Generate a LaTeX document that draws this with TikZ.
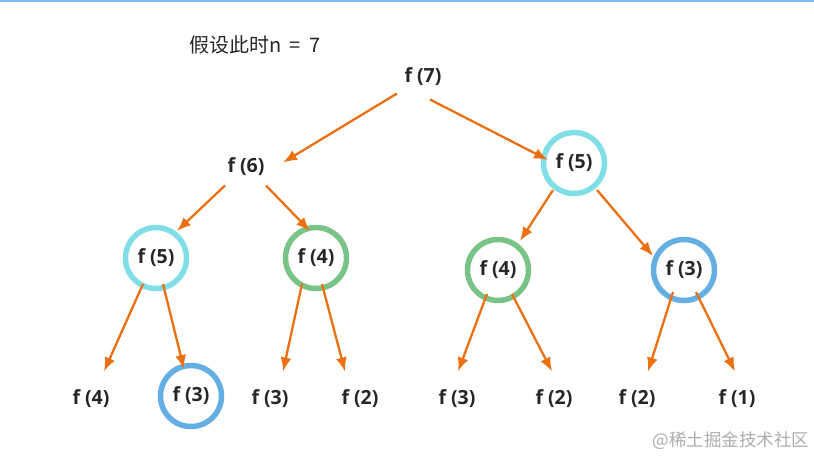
\documentclass[tikz,border=0pt]{standalone}
\usepackage{fontspec}
\setmainfont{Open Sans}
\newfontfamily\cjk{Noto Sans CJK SC}
\usetikzlibrary{arrows.meta}
\usetikzlibrary{positioning}
\definecolor{callorange}{HTML}{EC7012}
\definecolor{ringcyan}{HTML}{80DEE6}
\definecolor{ringgreen}{HTML}{78C486}
\definecolor{ringblue}{HTML}{64AEE4}
\definecolor{labelgray}{HTML}{262626}
\definecolor{topblue}{HTML}{7CB9F5}
\tikzstyle{call} = [font=\fontsize{19.5}{22}\selectfont\bfseries, text=labelgray, inner sep=1pt, yshift=-1.5pt]
\tikzstyle{ring} = [call, circle, line width=5.5pt, minimum size=61pt, yshift=1.5pt]
\tikzstyle{link} = [draw=callorange, line width=2.3pt, ->]

\begin{document}
\begin{tikzpicture}[x=1pt, y=-1pt, >={Latex[length=14pt,width=11pt]}]
    \useasboundingbox (0,0) rectangle (814,458);
    \draw[topblue, line width=1.5pt] (0,0.75) -- (814,0.75);

    % the note and the root
    \node[font=\cjk\fontsize{20}{24}\selectfont, text=labelgray] (note) at (255,45) {假设此时n\hspace{4pt} = \hspace{4pt}7};
    \node[call] (f7) at (423,75) {f (7)};

    % second row
    \node[call] (f6) at (246,165) {f (6)};
    \node[ring, draw=ringcyan] (f5r) at (574,163) {f (5)};

    % third row
    \node[ring, draw=ringcyan] (f5l) at (156,258) {f (5)};
    \node[ring, draw=ringgreen] (f4l) at (316,258) {f (4)};
    \node[ring, draw=ringgreen] (f4r) at (498,270) {f (4)};
    \node[ring, draw=ringblue] (f3r) at (684,270) {f (3)};

    % leaves
    \node[call] (g1) at (91,397) {f (4)};
    \node[ring, draw=ringblue] (g2) at (191,396) {f (3)};
    \node[call] (g3) at (270,397) {f (3)};
    \node[call] (g4) at (360,397) {f (2)};
    \node[call] (g5) at (457,397) {f (3)};
    \node[call] (g6) at (554,397) {f (2)};
    \node[call] (g7) at (637,397) {f (2)};
    \node[call] (g8) at (737,397) {f (1)};

    % the calls
    \draw[link] ([shift={(-26,17)}]f7.center) -- ([shift={(37,-4)}]f6.center);
    \draw[link] ([shift={(7,23)}]f7.center) -- ([shift={(-26,-3)}]f5r.center);
    \draw[link] ([shift={(-21,19)}]f6.center) -- ([shift={(21,-27)}]f5l.center);
    \draw[link] ([shift={(20,19)}]f6.center) -- ([shift={(-6,-27)}]f4l.center);
    \draw[link] ([shift={(-21,27)}]f5r.center) -- ([shift={(22,-29)}]f4r.center);
    \draw[link] ([shift={(23,27)}]f5r.center) -- ([shift={(-31,-14)}]f3r.center);
    \draw[link] ([shift={(-13,26)}]f5l.center) -- ([shift={(13,-27)}]g1.center);
    \draw[link] ([shift={(7,26)}]f5l.center) -- ([shift={(-7,-27)}]g2.center);
    \draw[link] ([shift={(-14,26)}]f4l.center) -- ([shift={(13,-27)}]g3.center);
    \draw[link] ([shift={(6,26)}]f4l.center) -- ([shift={(-15,-27)}]g4.center);
    \draw[link] ([shift={(-11,24)}]f4r.center) -- ([shift={(1,-27)}]g5.center);
    \draw[link] ([shift={(14,24)}]f4r.center) -- ([shift={(-2,-27)}]g6.center);
    \draw[link] ([shift={(-11,22)}]f3r.center) -- ([shift={(11,-27)}]g7.center);
    \draw[link] ([shift={(12,22)}]f3r.center) -- ([shift={(-2,-27)}]g8.center);

    \node[font=\cjk\fontsize{17.5}{20}\selectfont, text=black!32, anchor=east] (mark) at (813,441) {@稀土掘金技术社区};
\end{tikzpicture}
\end{document}
